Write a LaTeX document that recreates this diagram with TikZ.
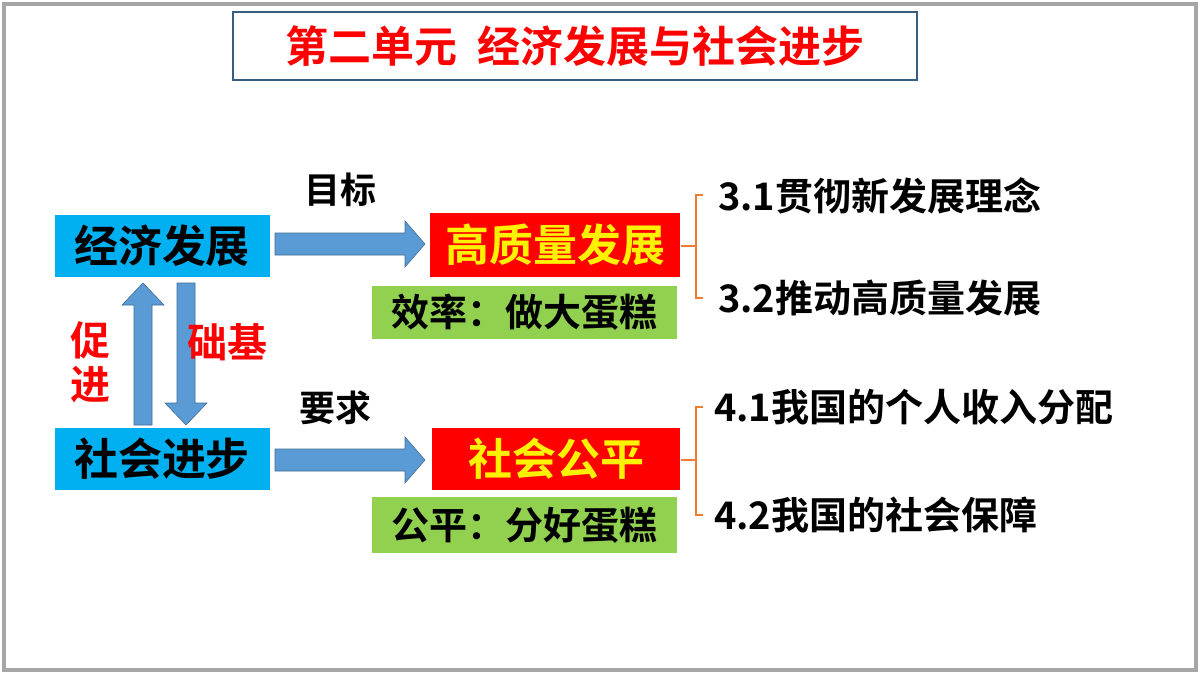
\documentclass[tikz,border=0pt]{standalone}
\usepackage{fontspec}
\setmainfont{Noto Sans CJK SC}[BoldFont={* Bold}]
\usetikzlibrary{shapes.arrows}
\definecolor{cy}{HTML}{00B0F0}
\definecolor{ab}{HTML}{5B9BD5}
\definecolor{gr}{HTML}{92D050}
\definecolor{og}{HTML}{ED7D31}
\tikzset{
 box/.style={inner sep=0pt,font=\bfseries\fontsize{44}{44}\selectfont},
 lbl/.style={anchor=west,inner sep=0pt,font=\bfseries\fontsize{38}{38}\selectfont},
 barr/.style={fill=ab,draw=ab!70!black,line width=0.6pt},
 br/.style={draw=og,line width=1.2pt}
}
\begin{document}
\begin{tikzpicture}[x=1pt,y=-1pt]
\useasboundingbox (0,0) rectangle (1200,675);
\fill[white] (0,0) rectangle (1200,675);
\draw[gray!70,line width=4pt] (4,4) rectangle (1196,670);
\node[draw=ab!60!black,line width=1.2pt,minimum width=684pt,minimum height=68pt,inner sep=0pt,text=red,font=\bfseries\fontsize{43}{43}\selectfont] (title) at (575,46) {第二单元\ \ 经济发展与社会进步};
\node[box,fill=cy,minimum width=215pt,minimum height=62pt] (a) at (162,246) {经济发展};
\node[box,fill=cy,minimum width=215pt,minimum height=62pt] (b) at (162,459) {社会进步};
\node[box,fill=red,text=yellow,minimum width=250pt,minimum height=64pt] (c) at (555,245) {高质量发展};
\node[box,fill=gr,minimum width=305pt,minimum height=53pt,font=\bfseries\fontsize{38}{38}\selectfont] (c2) at (524,312) {效率：做大蛋糕};
\node[box,fill=red,text=yellow,minimum width=248pt,minimum height=62pt] (d) at (556,459) {社会公平};
\node[box,fill=gr,minimum width=305pt,minimum height=56pt,font=\bfseries\fontsize{38}{38}\selectfont] (d2) at (524,525) {公平：分好蛋糕};
% block arrows
\draw[barr] (275,233) -- (405,233) -- (405,221) -- (425,244) -- (405,267) -- (405,255) -- (275,255) -- cycle;
\draw[barr] (275,449) -- (405,449) -- (405,437) -- (425,460) -- (405,483) -- (405,471) -- (275,471) -- cycle;
\draw[barr] (134,425) -- (134,305) -- (122,305) -- (143,283) -- (164,305) -- (152,305) -- (152,425) -- cycle;
\draw[barr] (177,283) -- (177,403) -- (165,403) -- (186,425) -- (207,403) -- (195,403) -- (195,283) -- cycle;
\node[font=\bfseries\fontsize{36}{36}\selectfont] (g) at (340,190) {目标};
\node[font=\bfseries\fontsize{36}{36}\selectfont] (r) at (335,408) {要求};
\node[text=red,font=\bfseries\fontsize{40}{44}\selectfont,align=center] (p) at (90,362) {促\\进};
\node[text=red,font=\bfseries\fontsize{40}{40}\selectfont] (j) at (227,342) {础基};
% braces
\draw[br] (703,195) -- (696,195) -- (696,298) -- (703,298);
\draw[br] (681,246) -- (696,246);
\draw[br] (703,407) -- (696,407) -- (696,515) -- (703,515);
\draw[br] (681,460) -- (696,460);
\node[lbl] (t1) at (718,196) {3.1贯彻新发展理念};
\node[lbl] (t2) at (718,298) {3.2推动高质量发展};
\node[lbl] (t3) at (714,407) {4.1我国的个人收入分配};
\node[lbl] (t4) at (714,515) {4.2我国的社会保障};
\end{tikzpicture}
\end{document}
